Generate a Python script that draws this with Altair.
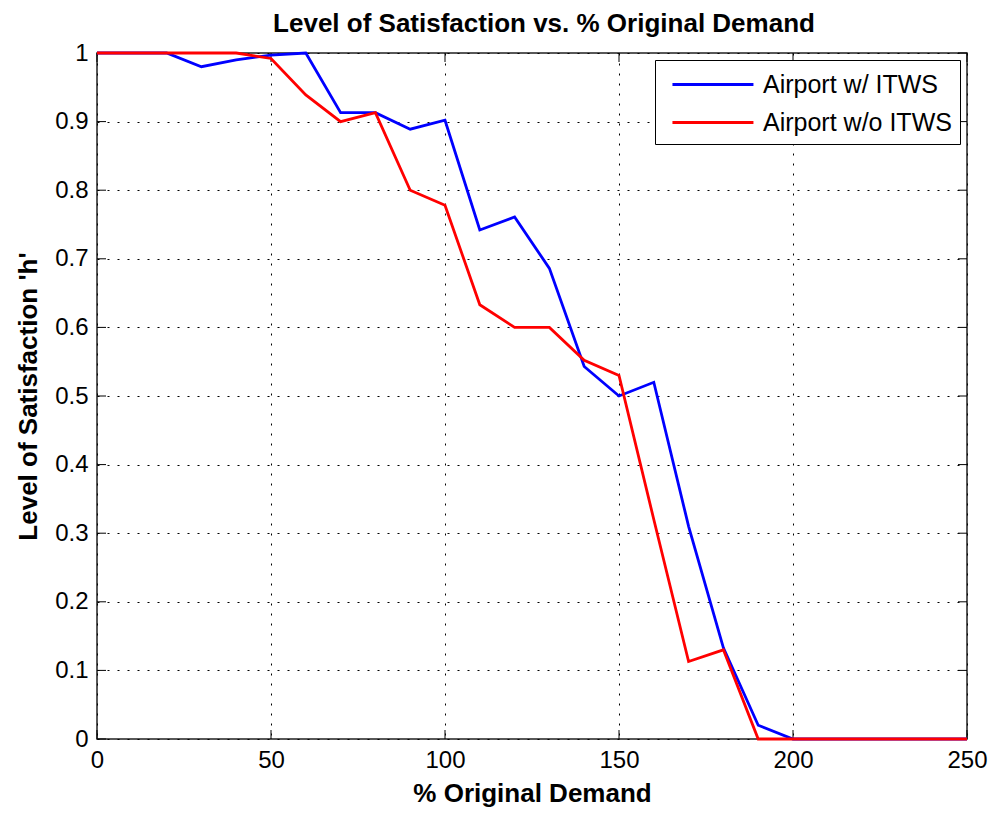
import altair as alt
import pandas as pd

demand = [0, 10, 20, 30, 40, 50, 60, 70, 80, 90, 100, 110, 120, 130, 140, 150,
          160, 170, 180, 190, 200, 210, 220, 230, 240, 250]
with_itws = [1.0, 1.0, 1.0, 0.98, 0.99, 0.997, 1.0, 0.913, 0.913, 0.889, 0.902,
             0.742, 0.761, 0.686, 0.543, 0.50, 0.52, 0.31, 0.133, 0.02, 0.0,
             0.0, 0.0, 0.0, 0.0, 0.0]
without_itws = [1.0, 1.0, 1.0, 1.0, 1.0, 0.992, 0.939, 0.90, 0.913, 0.80, 0.778,
                0.633, 0.60, 0.60, 0.552, 0.53, 0.32, 0.113, 0.13, 0.0, 0.0,
                0.0, 0.0, 0.0, 0.0, 0.0]
series_names = ["Airport w/ ITWS", "Airport w/o ITWS"]
series_colors = ["#0000ff", "#ff0000"]
x_ticks = [0, 50, 100, 150, 200, 250]
y_ticks = [0, 0.1, 0.2, 0.3, 0.4, 0.5, 0.6, 0.7, 0.8, 0.9, 1.0]

W, H = 870, 686
FONT = "Liberation Sans"

df = pd.DataFrame({
    "demand": demand * 2,
    "h": with_itws + without_itws,
    "series": [series_names[0]] * len(demand) + [series_names[1]] * len(demand),
})
xt = pd.DataFrame({"v": x_ticks})
yt = pd.DataFrame({"v": y_ticks})

xscale = alt.Scale(domain=[0, 250], nice=False, zero=False)
yscale = alt.Scale(domain=[0, 1], nice=False, zero=False)
color = alt.Color(
    "series:N",
    scale=alt.Scale(domain=series_names, range=series_colors),
    legend=alt.Legend(title=None),
)

base = alt.Chart(df)


def line_layer(name):
    return base.transform_filter(alt.datum.series == name).mark_line(
        strokeWidth=2.8
    ).encode(
        x=alt.X(
            "demand:Q",
            scale=xscale,
            axis=alt.Axis(values=x_ticks, format="d", title="% Original Demand",
                          labelFlush=False),
        ),
        y=alt.Y(
            "h:Q",
            scale=yscale,
            axis=alt.Axis(values=y_ticks, format=".1~f",
                          title="Level of Satisfaction 'h'"),
        ),
        color=color,
    )


blue = line_layer(series_names[0])
red = line_layer(series_names[1])

tk = 9
xtick_bottom = alt.Chart(xt).mark_rule(color="black", strokeWidth=1).encode(
    x=alt.X("v:Q", scale=xscale), y=alt.value(H), y2=alt.value(H - tk))
xtick_top = alt.Chart(xt).mark_rule(color="black", strokeWidth=1).encode(
    x=alt.X("v:Q", scale=xscale), y=alt.value(0), y2=alt.value(tk))
ytick_left = alt.Chart(yt).mark_rule(color="black", strokeWidth=1).encode(
    y=alt.Y("v:Q", scale=yscale), x=alt.value(0), x2=alt.value(tk))
ytick_right = alt.Chart(yt).mark_rule(color="black", strokeWidth=1).encode(
    y=alt.Y("v:Q", scale=yscale), x=alt.value(W), x2=alt.value(W - tk))

chart = alt.layer(
    xtick_bottom, xtick_top, ytick_left, ytick_right, blue, red
).properties(
    width=W,
    height=H,
    autosize=alt.AutoSizeParams(type="none"),
    padding={"left": 97, "top": 53, "right": 23, "bottom": 74},
    title=alt.TitleParams(
        "Level of Satisfaction vs. % Original Demand",
        font=FONT, fontSize=26, fontWeight="bold", color="black",
        offset=4, dx=12,
    ),
    background="white",
).configure_view(
    stroke="#222222", strokeWidth=1.5
).configure_axis(
    labelFont=FONT, labelFontSize=24, labelColor="black", labelPadding=9,
    titleFont=FONT, titleFontSize=26, titleFontWeight="bold", titleColor="black",
    grid=True, gridColor="black", gridDash=[2, 8], gridOpacity=1, gridWidth=1,
    ticks=False, domain=False,
).configure_axisY(
    titlePadding=13
).configure_axisX(
    titlePadding=8
).configure_legend(
    orient="top-right", offset=7, padding=8,
    strokeColor="black", fillColor="white", cornerRadius=0,
    symbolType="M-0.47,0H4.93", symbolSize=900, symbolStrokeWidth=2.8,
    labelFont=FONT, labelFontSize=25, labelColor="black", labelOffset=67,
    rowPadding=8, labelLimit=400,
)

chart.save("out.html", embed_options={"renderer": "svg", "actions": False})
